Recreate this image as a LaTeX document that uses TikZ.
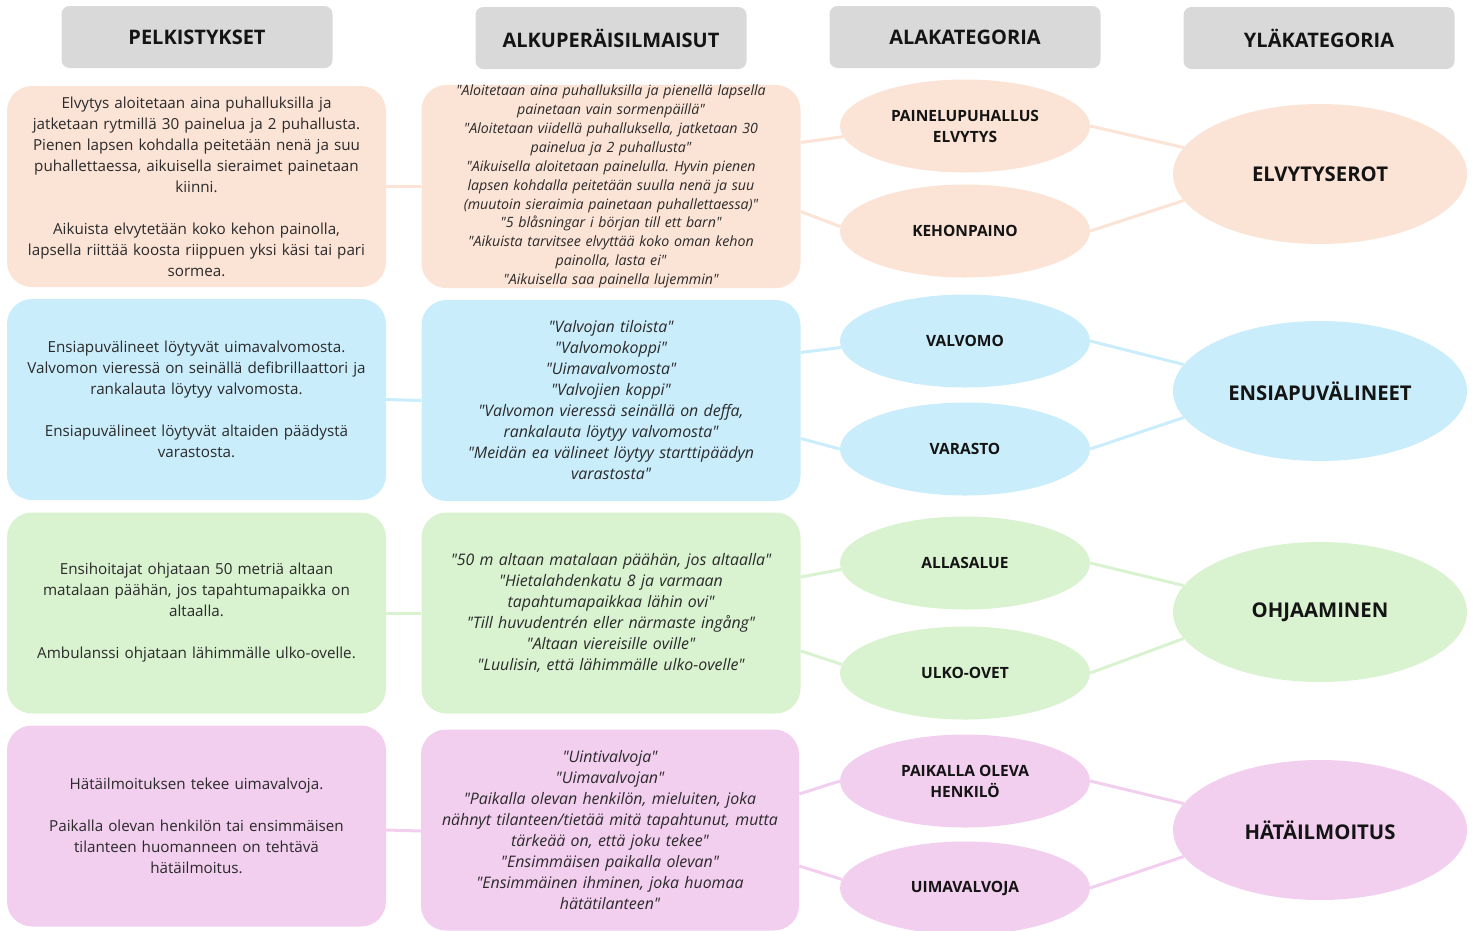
\documentclass[tikz,border=0pt]{standalone}
\usepackage{fontspec}
\setmainfont{Open Sans}
\usetikzlibrary{shapes.geometric,calc}
\newcommand{\qq}{\textquotedbl}
\frenchspacing
\definecolor{hdrgray}{HTML}{D9D9D9}
\definecolor{peach}{HTML}{FBE3D6}
\definecolor{lblue}{HTML}{CAEDFB}
\definecolor{lgreen}{HTML}{D9F2D0}
\definecolor{lpink}{HTML}{F2CEEF}
\definecolor{txtgray}{HTML}{2A2A2A}
\definecolor{lbldark}{HTML}{141414}
\tikzset{
  hdr/.style={fill=hdrgray, rounded corners=8pt, minimum width=271pt, minimum height=62pt, inner sep=0pt,
    text=lbldark, font=\bfseries\fontsize{20}{22}\selectfont},
  lbox/.style={fill=#1, rounded corners=25pt, minimum width=379pt, minimum height=201pt, inner sep=0pt,
    text width=375pt, align=center, text=txtgray, font=\fontsize{15.2}{21}\selectfont},
  qbox/.style={lbox=#1, font=\itshape\fontsize{15.9}{21}\selectfont},
  sell/.style={ellipse, fill=#1, minimum width=250pt, minimum height=93pt, inner sep=1pt, align=center,
    text=lbldark, font=\bfseries\fontsize{15.5}{21}\selectfont},
  bell/.style={ellipse, fill=#1, minimum width=294pt, minimum height=140pt, inner sep=1pt, align=center,
    text=lbldark, font=\bfseries\fontsize{20.3}{23}\selectfont},
  conn/.style={draw=#1, line width=3pt}
}
\begin{document}
\begin{tikzpicture}[x=1pt,y=-1pt]
\useasboundingbox (0,0) rectangle (1477,930);
% headers
\node[hdr] (h1) at (197,37) {PELKISTYKSET};
\node[hdr] (h2) at (611,38) {ALKUPERÄISILMAISUT};
\node[hdr] (h3) at (965,37) {ALAKATEGORIA};
\node[hdr] (h4) at (1319,38) {YLÄKATEGORIA};

% ---------- row 1 ----------
\node[lbox=peach] (l1) at (196.5,186.5) {Elvytys aloitetaan aina puhalluksilla ja\\
jatketaan rytmillä 30 painelua ja 2 puhallusta.\\
Pienen lapsen kohdalla peitetään nenä ja suu\\
puhallettaessa, aikuisella sieraimet painetaan\\
kiinni.\\[21pt]
Aikuista elvytetään koko kehon painolla,\\
lapsella riittää koosta riippuen yksi käsi tai pari\\
sormea.};
\node[qbox=peach, font=\itshape\fontsize{14.2}{18.9}\selectfont] (m1) at (611,186.5) {\qq{}Aloitetaan aina puhalluksilla ja pienellä lapsella\\
painetaan vain sormenpäillä\qq\\
\qq{}Aloitetaan viidellä puhalluksella, jatketaan 30\\
painelua ja 2 puhallusta\qq\\
\qq{}Aikuisella aloitetaan painelulla. Hyvin pienen\\
lapsen kohdalla peitetään suulla nenä ja suu\\
(muutoin sieraimia painetaan puhallettaessa)\qq\\
\qq{}5 blåsningar i början till ett barn\qq\\
\qq{}Aikuista tarvitsee elvyttää koko oman kehon\\
painolla, lasta ei\qq\\
\qq{}Aikuisella saa painella lujemmin\qq};
\node[sell=peach] (e1) at (965,126) {PAINELUPUHALLUS\\ELVYTYS};
\node[sell=peach] (e2) at (965,231) {KEHONPAINO};
\node[bell=peach] (b1) at (1320,174) {ELVYTYSEROT};

% ---------- row 2 ----------
\node[lbox=lblue] (l2) at (196.5,399.5) {Ensiapuvälineet löytyvät uimavalvomosta.\\
Valvomon vieressä on seinällä defibrillaattori ja\\
rankalauta löytyy valvomosta.\\[21pt]
Ensiapuvälineet löytyvät altaiden päädystä\\
varastosta.};
\node[qbox=lblue] (m2) at (611,400.5) {\qq{}Valvojan tiloista\qq\\
\qq{}Valvomokoppi\qq\\
\qq{}Uimavalvomosta\qq\\
\qq{}Valvojien koppi\qq\\
\qq{}Valvomon vieressä seinällä on deffa,\\
rankalauta löytyy valvomosta\qq\\
\qq{}Meidän ea välineet löytyy starttipäädyn\\
varastosta\qq};
\node[sell=lblue] (e3) at (965,341) {VALVOMO};
\node[sell=lblue] (e4) at (965,449) {VARASTO};
\node[bell=lblue] (b2) at (1320,391) {ENSIAPUVÄLINEET};

% ---------- row 3 ----------
\node[lbox=lgreen] (l3) at (196.5,613) {Ensihoitajat ohjataan 50 metriä altaan\\
matalaan päähän, jos tapahtumapaikka on\\
altaalla.\\[21pt]
Ambulanssi ohjataan lähimmälle ulko-ovelle.};
\node[qbox=lgreen] (m3) at (611,613) {\qq{}50 m altaan matalaan päähän, jos altaalla\qq\\
\qq{}Hietalahdenkatu 8 ja varmaan\\
tapahtumapaikkaa lähin ovi\qq\\
\qq{}Till huvudentrén eller närmaste ingång\qq\\
\qq{}Altaan viereisille oville\qq\\
\qq{}Luulisin, että lähimmälle ulko-ovelle\qq};
\node[sell=lgreen] (e5) at (965,563) {ALLASALUE};
\node[sell=lgreen] (e6) at (965,673) {ULKO-OVET};
\node[bell=lgreen] (b3) at (1320,612) {OHJAAMINEN};

% ---------- row 4 ----------
\node[lbox=lpink] (l4) at (196.5,826) {Hätäilmoituksen tekee uimavalvoja.\\[21pt]
Paikalla olevan henkilön tai ensimmäisen\\
tilanteen huomanneen on tehtävä\\
hätäilmoitus.};
\node[qbox=lpink, minimum width=378pt] (m4) at (610,830) {\qq{}Uintivalvoja\qq\\
\qq{}Uimavalvojan\qq\\
\qq{}Paikalla olevan henkilön, mieluiten, joka\\
nähnyt tilanteen/tietää mitä tapahtunut, mutta\\
tärkeää on, että joku tekee\qq\\
\qq{}Ensimmäisen paikalla olevan\qq\\
\qq{}Ensimmäinen ihminen, joka huomaa\\
hätätilanteen\qq};
\node[sell=lpink] (e7) at (965,781) {PAIKALLA OLEVA\\HENKILÖ};
\node[sell=lpink] (e8) at (965,888) {UIMAVALVOJA};
\node[bell=lpink] (b4) at (1320,830) {HÄTÄILMOITUS};

% ---------- connectors ----------
\draw[conn=peach] (l1.east) -- (m1.west);
\draw[conn=peach] ($(m1.east)+(0,-44)$) -- (e1.185);
\draw[conn=peach] ($(m1.east)+(0,25)$) -- (e2.178);
\draw[conn=peach] (e1.east) -- (b1.169);
\draw[conn=peach] (e2.east) -- (b1.191);

\draw[conn=lblue] (l2.east) -- (m2.west);
\draw[conn=lblue] ($(m2.east)+(0,-48)$) -- (e3.183);
\draw[conn=lblue] ($(m2.east)+(0,38)$) -- (e4.west);
\draw[conn=lblue] (e3.east) -- (b2.169);
\draw[conn=lblue] (e4.east) -- (b2.191);

\draw[conn=lgreen] (l3.east) -- (m3.west);
\draw[conn=lgreen] ($(m3.east)+(0,-36)$) -- (e5.183);
\draw[conn=lgreen] ($(m3.east)+(0,38)$) -- (e6.176);
\draw[conn=lgreen] (e5.east) -- (b3.169);
\draw[conn=lgreen] (e6.east) -- (b3.191);

\draw[conn=lpink] ($(l4.east)+(0,4)$) -- ($(m4.west)+(0,1)$);
\draw[conn=lpink] ($(m4.east)+(0,-36)$) -- (e7.west);
\draw[conn=lpink] ($(m4.east)+(0,36)$) -- (e8.176);
\draw[conn=lpink] (e7.east) -- (b4.169);
\draw[conn=lpink] (e8.east) -- (b4.191);
\end{tikzpicture}
\end{document}
